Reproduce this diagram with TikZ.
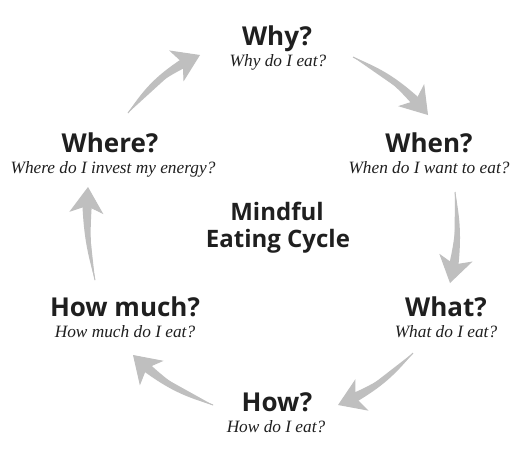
\documentclass[tikz,border=0pt]{standalone}
\usepackage{fontspec}
\newfontfamily\ttlfont{Open Sans}
\newfontfamily\subfont{Liberation Serif}
\usetikzlibrary{arrows.meta,calc}
\newcommand\brusharrow[3]{%
  \path (#1) to[bend left=#3] node[coordinate,pos=0.83] (bcE) {} (#2);
  \pgfmathsetmacro\bendE{0.83*#3}%
  \fill[brushfill] (#1) to[bend left=\bendE] ($(bcE)!4.8pt!90:(#1)$)
     -- ($(bcE)!4.8pt!-90:(#1)$) to[bend right=\bendE] (#1) -- cycle;
  \draw[brushline, -{Stealth[length=26pt,width=34pt,inset=7pt]}] (#1) to[bend left=#3] (#2);
}
\begin{document}
\begin{tikzpicture}[x=1pt,y=1pt,
  ttl/.style={font=\ttlfont\bfseries\fontsize{26}{28}\selectfont, anchor=base, inner sep=0pt, text=black!88},
  sub/.style={font=\subfont\itshape\fontsize{17.3}{19}\selectfont, anchor=base, inner sep=0pt, text=black!88},
  ctr/.style={font=\ttlfont\bfseries\fontsize{24}{26}\selectfont, anchor=base, inner sep=0pt, text=black!88},
  brushfill/.style={fill=black!25},
  brushline/.style={draw=black!25, fill=black!25, line width=1pt}]
\useasboundingbox (0,0) rectangle (530,-461);
\fill[white] (0,0) rectangle (530,-461);

\node[ttl] (why) at (277,-45) {Why?};
\node[sub] (whys) at (278,-66.7) {Why do I eat?};
\node[ttl] (when) at (429,-152.5) {When?};
\node[sub] (whens) at (429,-173) {When do I want to eat?};
\node[ttl] (what) at (446,-316) {What?};
\node[sub] (whats) at (446,-337) {What do I eat?};
\node[ttl] (how) at (277,-411.5) {How?};
\node[sub] (hows) at (276,-432) {How do I eat?};
\node[ttl] (howmuch) at (125,-316) {How much?};
\node[sub] (howmuchs) at (125,-337) {How much do I eat?};
\node[ttl] (where) at (110,-152) {Where?};
\node[sub] (wheres) at (113,-173) {Where do I invest my energy?};
\node[ctr] (mind) at (277,-220) {Mindful};
\node[ctr] (cyc) at (278,-247) {Eating Cycle};

\coordinate (a1s) at (128,-113); \coordinate (a1e) at (200,-55);
\coordinate (a2s) at (353,-57);  \coordinate (a2e) at (428,-115);
\coordinate (a3s) at (455,-192); \coordinate (a3e) at (450,-283);
\coordinate (a4s) at (413,-353); \coordinate (a4e) at (338,-405);
\coordinate (a5s) at (213,-405); \coordinate (a5e) at (133,-355);
\coordinate (a6s) at (95,-280);  \coordinate (a6e) at (88,-187);

\brusharrow{a1s}{a1e}{14}
\brusharrow{a2s}{a2e}{12}
\brusharrow{a3s}{a3e}{10}
\brusharrow{a4s}{a4e}{12}
\brusharrow{a5s}{a5e}{12}
\brusharrow{a6s}{a6e}{8}
\end{tikzpicture}
\end{document}
